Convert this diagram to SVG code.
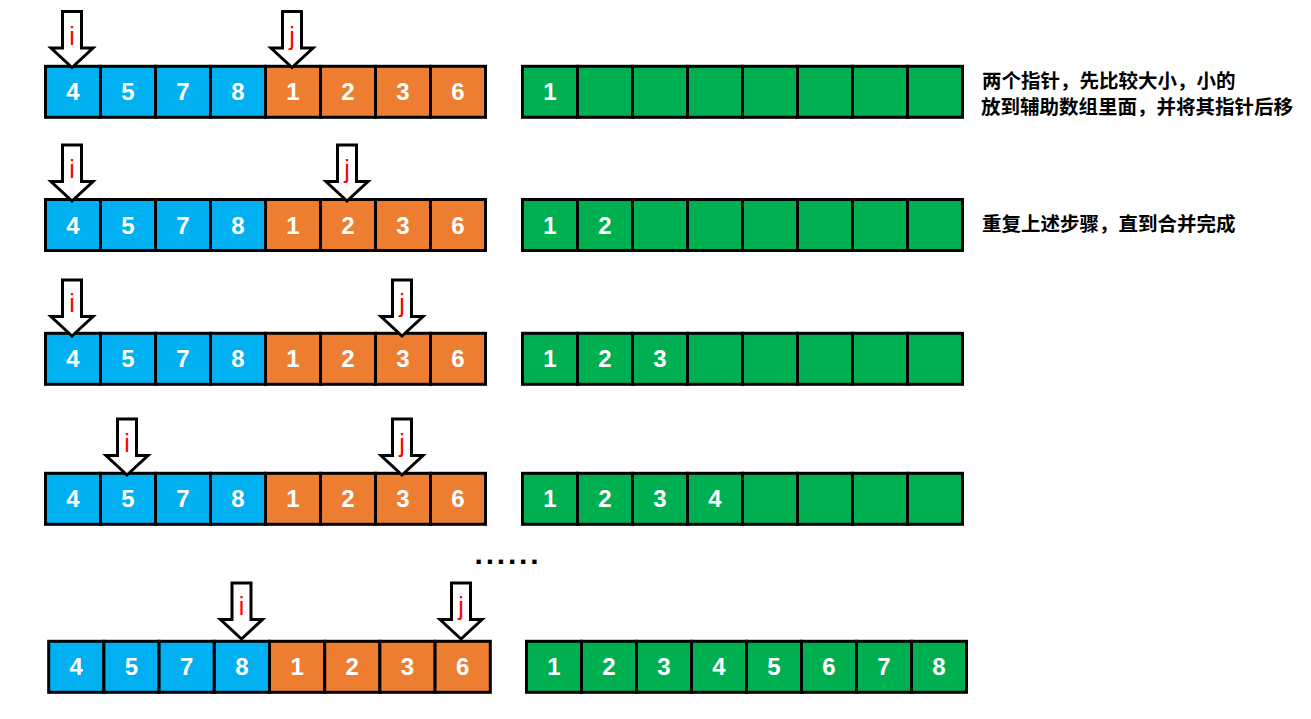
<svg xmlns="http://www.w3.org/2000/svg" width="1311" height="719" viewBox="0 0 1311 719">
<style>
.c{stroke:#000;stroke-width:3}
.b{fill:#00B0F0}
.o{fill:#ED7D31}
.g{fill:#00B050}
.d{fill:#fff;font-family:"Liberation Sans",Arial,sans-serif;font-size:24px;font-weight:bold;text-anchor:middle}
.ar{fill:#fff;stroke:#000;stroke-width:3;stroke-linejoin:miter}
.lb{fill:#FF0000;font-family:"Liberation Sans",Arial,sans-serif;font-size:25px;text-anchor:middle}
.note{fill:#000;font-family:"Liberation Sans","Noto Sans CJK SC",sans-serif;font-size:19.5px;font-weight:bold}
</style>
<rect width="1311" height="719" fill="#fff"/>

<!-- Row 1 -->
<g id="row1-src" transform="translate(45.5,66.3)">
<rect class="c b" x="0" y="0" width="55" height="51"/><rect class="c b" x="55" y="0" width="55" height="51"/><rect class="c b" x="110" y="0" width="55" height="51"/><rect class="c b" x="165" y="0" width="55" height="51"/>
<rect class="c o" x="220" y="0" width="55" height="51"/><rect class="c o" x="275" y="0" width="55" height="51"/><rect class="c o" x="330" y="0" width="55" height="51"/><rect class="c o" x="385" y="0" width="55" height="51"/>
<text class="d" x="27.5" y="34">4</text><text class="d" x="82.5" y="34">5</text><text class="d" x="137.5" y="34">7</text><text class="d" x="192.5" y="34">8</text><text class="d" x="247.5" y="34">1</text><text class="d" x="302.5" y="34">2</text><text class="d" x="357.5" y="34">3</text><text class="d" x="412.5" y="34">6</text>
</g>
<g id="row1-aux" transform="translate(522.5,66.3)">
<rect class="c g" x="0" y="0" width="55" height="51"/><rect class="c g" x="55" y="0" width="55" height="51"/><rect class="c g" x="110" y="0" width="55" height="51"/><rect class="c g" x="165" y="0" width="55" height="51"/>
<rect class="c g" x="220" y="0" width="55" height="51"/><rect class="c g" x="275" y="0" width="55" height="51"/><rect class="c g" x="330" y="0" width="55" height="51"/><rect class="c g" x="385" y="0" width="55" height="51"/>
<text class="d" x="27.5" y="34">1</text>
</g>

<!-- Row 2 -->
<g id="row2-src" transform="translate(45.5,199.5)">
<rect class="c b" x="0" y="0" width="55" height="51"/><rect class="c b" x="55" y="0" width="55" height="51"/><rect class="c b" x="110" y="0" width="55" height="51"/><rect class="c b" x="165" y="0" width="55" height="51"/>
<rect class="c o" x="220" y="0" width="55" height="51"/><rect class="c o" x="275" y="0" width="55" height="51"/><rect class="c o" x="330" y="0" width="55" height="51"/><rect class="c o" x="385" y="0" width="55" height="51"/>
<text class="d" x="27.5" y="34">4</text><text class="d" x="82.5" y="34">5</text><text class="d" x="137.5" y="34">7</text><text class="d" x="192.5" y="34">8</text><text class="d" x="247.5" y="34">1</text><text class="d" x="302.5" y="34">2</text><text class="d" x="357.5" y="34">3</text><text class="d" x="412.5" y="34">6</text>
</g>
<g id="row2-aux" transform="translate(522.5,199.5)">
<rect class="c g" x="0" y="0" width="55" height="51"/><rect class="c g" x="55" y="0" width="55" height="51"/><rect class="c g" x="110" y="0" width="55" height="51"/><rect class="c g" x="165" y="0" width="55" height="51"/>
<rect class="c g" x="220" y="0" width="55" height="51"/><rect class="c g" x="275" y="0" width="55" height="51"/><rect class="c g" x="330" y="0" width="55" height="51"/><rect class="c g" x="385" y="0" width="55" height="51"/>
<text class="d" x="27.5" y="34">1</text><text class="d" x="82.5" y="34">2</text>
</g>

<!-- Row 3 -->
<g id="row3-src" transform="translate(45.5,333.3)">
<rect class="c b" x="0" y="0" width="55" height="51"/><rect class="c b" x="55" y="0" width="55" height="51"/><rect class="c b" x="110" y="0" width="55" height="51"/><rect class="c b" x="165" y="0" width="55" height="51"/>
<rect class="c o" x="220" y="0" width="55" height="51"/><rect class="c o" x="275" y="0" width="55" height="51"/><rect class="c o" x="330" y="0" width="55" height="51"/><rect class="c o" x="385" y="0" width="55" height="51"/>
<text class="d" x="27.5" y="34">4</text><text class="d" x="82.5" y="34">5</text><text class="d" x="137.5" y="34">7</text><text class="d" x="192.5" y="34">8</text><text class="d" x="247.5" y="34">1</text><text class="d" x="302.5" y="34">2</text><text class="d" x="357.5" y="34">3</text><text class="d" x="412.5" y="34">6</text>
</g>
<g id="row3-aux" transform="translate(522.5,333.3)">
<rect class="c g" x="0" y="0" width="55" height="51"/><rect class="c g" x="55" y="0" width="55" height="51"/><rect class="c g" x="110" y="0" width="55" height="51"/><rect class="c g" x="165" y="0" width="55" height="51"/>
<rect class="c g" x="220" y="0" width="55" height="51"/><rect class="c g" x="275" y="0" width="55" height="51"/><rect class="c g" x="330" y="0" width="55" height="51"/><rect class="c g" x="385" y="0" width="55" height="51"/>
<text class="d" x="27.5" y="34">1</text><text class="d" x="82.5" y="34">2</text><text class="d" x="137.5" y="34">3</text>
</g>

<!-- Row 4 -->
<g id="row4-src" transform="translate(45.5,473.3)">
<rect class="c b" x="0" y="0" width="55" height="51"/><rect class="c b" x="55" y="0" width="55" height="51"/><rect class="c b" x="110" y="0" width="55" height="51"/><rect class="c b" x="165" y="0" width="55" height="51"/>
<rect class="c o" x="220" y="0" width="55" height="51"/><rect class="c o" x="275" y="0" width="55" height="51"/><rect class="c o" x="330" y="0" width="55" height="51"/><rect class="c o" x="385" y="0" width="55" height="51"/>
<text class="d" x="27.5" y="34">4</text><text class="d" x="82.5" y="34">5</text><text class="d" x="137.5" y="34">7</text><text class="d" x="192.5" y="34">8</text><text class="d" x="247.5" y="34">1</text><text class="d" x="302.5" y="34">2</text><text class="d" x="357.5" y="34">3</text><text class="d" x="412.5" y="34">6</text>
</g>
<g id="row4-aux" transform="translate(522.5,473.3)">
<rect class="c g" x="0" y="0" width="55" height="51"/><rect class="c g" x="55" y="0" width="55" height="51"/><rect class="c g" x="110" y="0" width="55" height="51"/><rect class="c g" x="165" y="0" width="55" height="51"/>
<rect class="c g" x="220" y="0" width="55" height="51"/><rect class="c g" x="275" y="0" width="55" height="51"/><rect class="c g" x="330" y="0" width="55" height="51"/><rect class="c g" x="385" y="0" width="55" height="51"/>
<text class="d" x="27.5" y="34">1</text><text class="d" x="82.5" y="34">2</text><text class="d" x="137.5" y="34">3</text><text class="d" x="192.5" y="34">4</text>
</g>

<!-- Row 5 -->
<g id="row5-src" transform="translate(48.7,641.3)">
<rect class="c b" x="0" y="0" width="55.2" height="51"/><rect class="c b" x="55.2" y="0" width="55.2" height="51"/><rect class="c b" x="110.4" y="0" width="55.2" height="51"/><rect class="c b" x="165.6" y="0" width="55.2" height="51"/>
<rect class="c o" x="220.8" y="0" width="55.2" height="51"/><rect class="c o" x="276" y="0" width="55.2" height="51"/><rect class="c o" x="331.2" y="0" width="55.2" height="51"/><rect class="c o" x="386.4" y="0" width="55.2" height="51"/>
<text class="d" x="27.6" y="34">4</text><text class="d" x="82.8" y="34">5</text><text class="d" x="138" y="34">7</text><text class="d" x="193.2" y="34">8</text><text class="d" x="248.4" y="34">1</text><text class="d" x="303.6" y="34">2</text><text class="d" x="358.8" y="34">3</text><text class="d" x="414" y="34">6</text>
</g>
<g id="row5-aux" transform="translate(526.5,641.3)">
<rect class="c g" x="0" y="0" width="55" height="51"/><rect class="c g" x="55" y="0" width="55" height="51"/><rect class="c g" x="110" y="0" width="55" height="51"/><rect class="c g" x="165" y="0" width="55" height="51"/>
<rect class="c g" x="220" y="0" width="55" height="51"/><rect class="c g" x="275" y="0" width="55" height="51"/><rect class="c g" x="330" y="0" width="55" height="51"/><rect class="c g" x="385" y="0" width="55" height="51"/>
<text class="d" x="27.5" y="34">1</text><text class="d" x="82.5" y="34">2</text><text class="d" x="137.5" y="34">3</text><text class="d" x="192.5" y="34">4</text><text class="d" x="247.5" y="34">5</text><text class="d" x="302.5" y="34">6</text><text class="d" x="357.5" y="34">7</text><text class="d" x="412.5" y="34">8</text>
</g>

<!-- Pointer arrows -->
<g id="connectors">
<g id="r1-i" transform="translate(72,11.5)"><path class="ar" d="M-9.5 0H9.5V36.5H21L0 56L-21 36.5H-9.5Z"/><text class="lb" x="0" y="33">i</text></g>
<g id="r1-j" transform="translate(292,11.5)"><path class="ar" d="M-9.5 0H9.5V36.5H21L0 56L-21 36.5H-9.5Z"/><text class="lb" x="0" y="33">j</text></g>
<g id="r2-i" transform="translate(72,145)"><path class="ar" d="M-9.5 0H9.5V36.5H21L0 56L-21 36.5H-9.5Z"/><text class="lb" x="0" y="33">i</text></g>
<g id="r2-j" transform="translate(347,145)"><path class="ar" d="M-9.5 0H9.5V36.5H21L0 56L-21 36.5H-9.5Z"/><text class="lb" x="0" y="33">j</text></g>
<g id="r3-i" transform="translate(72,280)"><path class="ar" d="M-9.5 0H9.5V36.5H21L0 56L-21 36.5H-9.5Z"/><text class="lb" x="0" y="32">i</text></g>
<g id="r3-j" transform="translate(402,280)"><path class="ar" d="M-9.5 0H9.5V36.5H21L0 56L-21 36.5H-9.5Z"/><text class="lb" x="0" y="32">j</text></g>
<g id="r4-i" transform="translate(127,419)"><path class="ar" d="M-9.5 0H9.5V36.5H21L0 56L-21 36.5H-9.5Z"/><text class="lb" x="0" y="33">i</text></g>
<g id="r4-j" transform="translate(402,419)"><path class="ar" d="M-9.5 0H9.5V36.5H21L0 56L-21 36.5H-9.5Z"/><text class="lb" x="0" y="33">j</text></g>
<g id="r5-i" transform="translate(241.5,583)"><path class="ar" d="M-9.5 0H9.5V36.5H21L0 56L-21 36.5H-9.5Z"/><text class="lb" x="0" y="32">i</text></g>
<g id="r5-j" transform="translate(461,583)"><path class="ar" d="M-9.5 0H9.5V36.5H21L0 56L-21 36.5H-9.5Z"/><text class="lb" x="0" y="32">j</text></g>
</g>

<!-- Notes -->
<g id="note1">
<text class="note" x="982" y="88">两个指针，先比较大小，小的</text>
<text class="note" x="981" y="114">放到辅助数组里面，并将其指针后移</text>
</g>
<g id="note2">
<text class="note" x="982" y="231">重复上述步骤，直到合并完成</text>
</g>
<g id="ellipsis">
<text x="474.5" y="564" style="fill:#000;font-family:'Liberation Sans',Arial,sans-serif;font-size:30px;font-weight:bold;letter-spacing:2.8px">......</text>
</g>
</svg>
